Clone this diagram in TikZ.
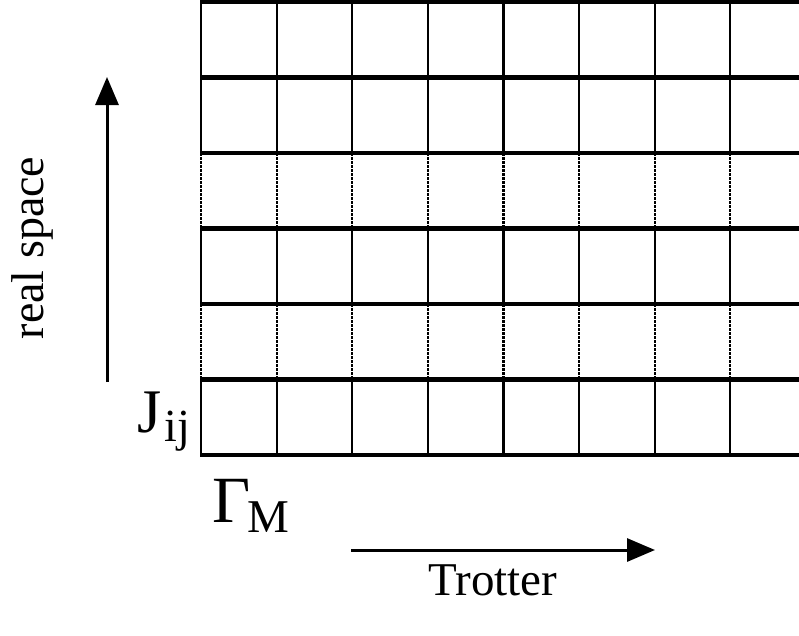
\documentclass[tikz,border=0pt]{standalone}
\usepackage{fontspec}
\setmainfont{Liberation Serif}
\usetikzlibrary{arrows.meta}

\begin{document}
\begin{tikzpicture}[
  x=1pt,
  y=-1pt,
  >={Triangle[length=28pt,width=23pt]},
  rung/.style={line width=4.5pt},
  leg/.style={line width=2.2pt},
  gap/.style={line width=2.2pt, dash pattern=on 2.5pt off 1.5pt},
  axis/.style={->, line width=3pt},
  lbl/.style={font=\fontsize{46}{50}\selectfont, inner sep=0pt},
  big/.style={inner sep=0pt, anchor=base west},
]
  \useasboundingbox (0,0) rectangle (799,635);
  \def\xl{201}
  \def\xr{799}
  \def\dx{75.6}
  \def\dy{75.5}
  \def\yt{2}

  % vertical links, dotted in rows 3 and 5
  \foreach \r/\sty in {0/leg,1/leg,2/gap,3/leg,4/gap,5/leg}
    \foreach \c in {0,...,7}
      \draw[\sty] ({\xl+\c*\dx},{\yt+\r*\dy}) -- ({\xl+\c*\dx},{\yt+(\r+1)*\dy});

  % horizontal lines
  \foreach \r in {0,...,6}
    \draw[rung] ({\xl-1},{\yt+\r*\dy}) -- (\xr,{\yt+\r*\dy});

  % axes
  \coordinate (rs0) at (107,382);
  \coordinate (rs1) at (107,77);
  \draw[axis] (rs0) -- (rs1);
  \coordinate (tr0) at (351,550);
  \coordinate (tr1) at (655,550);
  \draw[axis] (tr0) -- (tr1);

  \node[lbl, rotate=90, anchor=base] (space) at (43,248) {real space};
  \node[lbl, anchor=base, font=\fontsize{47}{50}\selectfont] (trot) at (493,595) {Trotter};

  % couplings
  \node[big, font=\fontsize{62}{66}\selectfont] (jij) at (137,432)
    {J\kern3pt\raisebox{-9pt}{\fontsize{46}{50}\selectfont ij}};
  \node[big, font=\fontsize{66}{70}\selectfont] (gam) at (212,522)
    {Γ\kern-3pt\raisebox{-10pt}{\fontsize{47}{50}\selectfont M}};
\end{tikzpicture}
\end{document}
